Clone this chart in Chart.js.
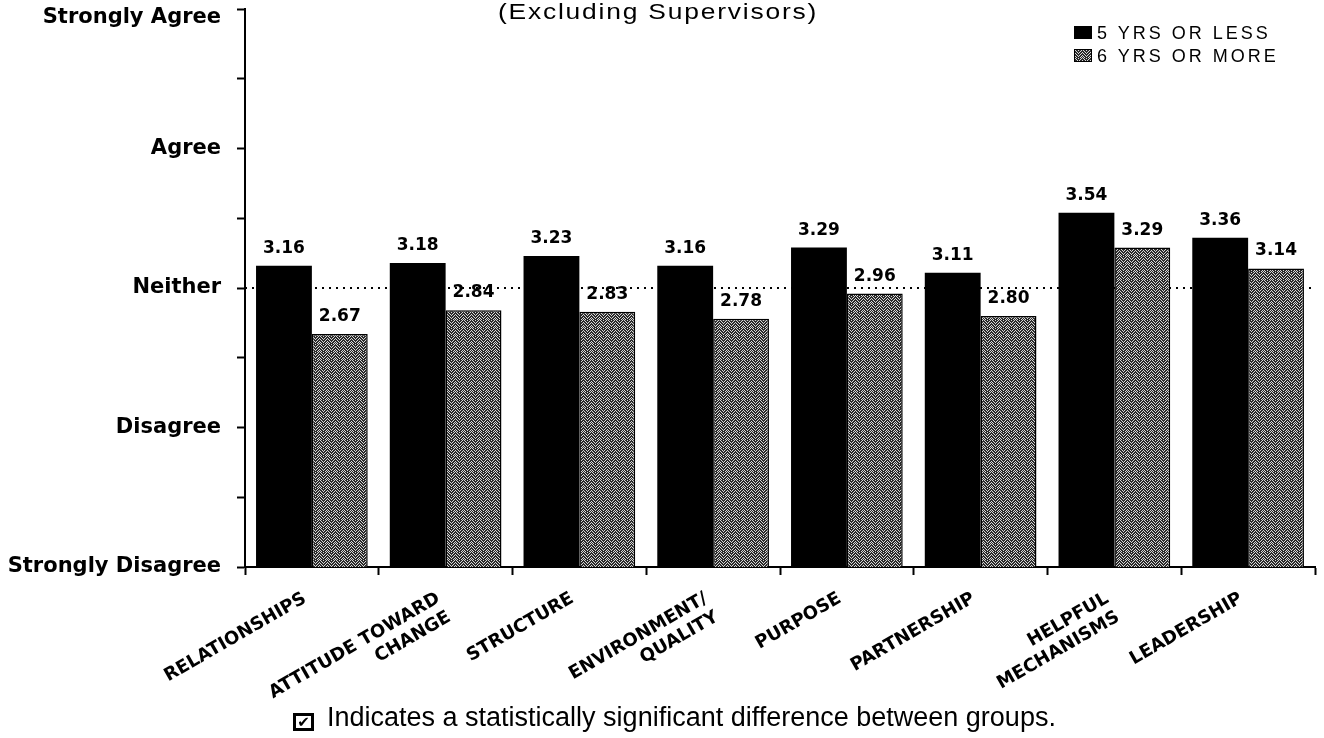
<!DOCTYPE html>
<html>
<head>
<meta charset="utf-8">
<script src="https://cdn.jsdelivr.net/npm/chart.js@4/dist/chart.umd.min.js"></script>
<style>
  html, body { margin: 0; padding: 0; background: #fff; }
  #wrap { position: relative; width: 1324px; height: 738px; overflow: hidden; }
  #chart { position: absolute; left: 0; top: 0; }
  .title {
    position: absolute; left: 0; top: 1px; width: 1316px; text-align: center;
    font: 22px "Liberation Sans", Arial, sans-serif; line-height: 1; letter-spacing: 1.5px;
    transform: scaleX(1.2); transform-origin: 658px 0; color: #000;
  }
  #legend { position: absolute; left: 1074px; top: 21px; }
  .legend-row { display: flex; align-items: center; height: 23px; }
  .legend-box { width: 18px; height: 13px; box-sizing: border-box; border: 1px solid #000; margin-right: 5px; }
  .legend-text { font: 18px "Liberation Sans", Arial, sans-serif; letter-spacing: 3px; line-height: 1; color: #000; }
  .footer {
    position: absolute; left: 293px; top: 704px; white-space: nowrap;
    font: 27px "Liberation Sans", Arial, sans-serif; line-height: 1; color: #000;
  }
  .footer .check {
    display: inline-block; box-sizing: border-box; width: 21px; height: 18px;
    border: 3px solid #000; margin-right: 13px; vertical-align: -1px;
    font: bold 15px "DejaVu Sans"; line-height: 12px; text-align: center;
  }
</style>
</head>
<body>
<div id="wrap">
  <canvas id="chart" width="1324" height="738"></canvas>
  <div class="title">(Excluding Supervisors)</div>
  <div id="legend"></div>
  <div class="footer"><span class="check">✔</span>Indicates a statistically significant difference between groups.</div>
</div>
<script>
const categories = [
  ['RELATIONSHIPS'],
  ['ATTITUDE TOWARD', 'CHANGE'],
  ['STRUCTURE'],
  ['ENVIRONMENT/', 'QUALITY'],
  ['PURPOSE'],
  ['PARTNERSHIP'],
  ['HELPFUL', 'MECHANISMS'],
  ['LEADERSHIP']
]
const seriesNames = ['5 YRS OR LESS', '6 YRS OR MORE']
const yrs5OrLess = [3.16, 3.18, 3.23, 3.16, 3.29, 3.11, 3.54, 3.36]
const yrs6OrMore = [2.67, 2.84, 2.83, 2.78, 2.96, 2.80, 3.29, 3.14]
const scaleLabels = ['Strongly Disagree', 'Disagree', 'Neither', 'Agree', 'Strongly Agree']
const neutralValue = 3

// speckled grey fill, like the halftone in the print
function makeSpeckle() {
  const c = document.createElement('canvas')
  c.width = 8
  c.height = 8
  const g = c.getContext('2d')
  g.fillStyle = '#2a2a2a'
  g.fillRect(0, 0, 8, 8)
  g.fillStyle = '#d8d8d8'
  const dots = [[0,0],[3,0],[6,0],[1,1],[5,1],[2,2],[4,2],[7,2],[0,3],[3,3],[6,3],
    [1,4],[5,4],[2,5],[4,5],[7,5],[0,6],[3,6],[6,6],[1,7],[5,7],[7,7]]
  dots.forEach( ( d ) => g.fillRect(d[0], d[1], 1, 1) )
  return c
}
const speckleCanvas = makeSpeckle()
const ctx = document.getElementById('chart').getContext('2d')
const speckle = ctx.createPattern(speckleCanvas, 'repeat')

const neutralLine = {
  id: 'neutralLine',
  beforeDatasetsDraw(chart) {
    const { ctx, chartArea, scales } = chart
    const y = scales.y.getPixelForValue(neutralValue)
    ctx.save()
    ctx.strokeStyle = '#000'
    ctx.lineWidth = 2
    ctx.setLineDash([2, 5])
    ctx.beginPath()
    ctx.moveTo(chartArea.left, y)
    ctx.lineTo(chartArea.right, y)
    ctx.stroke()
    ctx.restore()
  }
}

const valueLabels = {
  id: 'valueLabels',
  afterDatasetsDraw(chart) {
    const { ctx } = chart
    ctx.save()
    ctx.fillStyle = '#000'
    ctx.font = 'bold 17px "DejaVu Sans"'
    ctx.textAlign = 'center'
    ctx.textBaseline = 'alphabetic'
    chart.data.datasets.forEach( ( ds, i ) => {
      chart.getDatasetMeta(i).data.forEach( ( bar, j ) => {
        ctx.fillText(ds.data[j].toFixed(2), bar.x, bar.y - 13)
      } )
    } )
    ctx.restore()
  }
}

const chart = new Chart(ctx, {
  type: 'bar',
  data: {
    labels: categories,
    datasets: [
      {
        label: seriesNames[0],
        data: yrs5OrLess,
        backgroundColor: '#000',
        borderColor: '#000',
        borderWidth: 0
      },
      {
        label: seriesNames[1],
        data: yrs6OrMore,
        backgroundColor: speckle,
        borderColor: '#000',
        borderWidth: 1.5
      }
    ]
  },
  options: {
    responsive: false,
    animation: false,
    devicePixelRatio: 1,
    layout: { padding: { left: 0, right: 9, top: 0, bottom: 0 } },
    datasets: { bar: { categoryPercentage: 0.835, barPercentage: 1 } },
    plugins: {
      legend: { display: false },
      title: { display: false },
      tooltip: { enabled: false }
    },
    scales: {
      x: {
        afterFit: ( scale ) => { scale.height = 171 },
        border: { display: true, color: '#000', width: 2 },
        grid: { offset: true, drawOnChartArea: false, drawTicks: true, tickLength: 8, tickColor: '#000', tickWidth: 2 },
        ticks: {
          color: '#000',
          font: { family: 'DejaVu Sans', weight: 'bold', size: 18 },
          maxRotation: 30,
          minRotation: 30,
          padding: 13,
          labelOffset: -7,
          autoSkip: false
        }
      },
      y: {
        min: 1,
        max: 5,
        afterFit: ( scale ) => {
          scale.width = 245
          scale.paddingTop = 9
          scale.paddingBottom = 0
        },
        border: { display: true, color: '#000', width: 2 },
        grid: { drawOnChartArea: false, drawTicks: true, tickLength: 8, tickColor: '#000', tickWidth: 2 },
        ticks: {
          stepSize: 0.5,
          color: '#000',
          padding: 16,
          font: { family: 'DejaVu Sans', weight: 'bold', size: 21, lineHeight: 0.8 },
          callback: ( v ) => {
            if ( !Number.isInteger(v) ) return ''
            // top label sits just under its tick in the original
            return v === 5 ? ['', scaleLabels[v - 1]] : scaleLabels[v - 1]
          }
        }
      }
    }
  },
  plugins: [neutralLine, valueLabels]
})

// html legend built from the datasets
const legendEl = document.getElementById('legend')
chart.data.datasets.forEach( ( ds, i ) => {
  const row = document.createElement('div')
  row.className = 'legend-row'
  const box = document.createElement('span')
  box.className = 'legend-box'
  if ( i === 0 ) {
    box.style.background = '#000'
  } else {
    box.style.backgroundImage = 'url(' + speckleCanvas.toDataURL() + ')'
  }
  const txt = document.createElement('span')
  txt.className = 'legend-text'
  txt.textContent = ds.label
  row.appendChild(box)
  row.appendChild(txt)
  legendEl.appendChild(row)
} )
</script>
</body>
</html>
